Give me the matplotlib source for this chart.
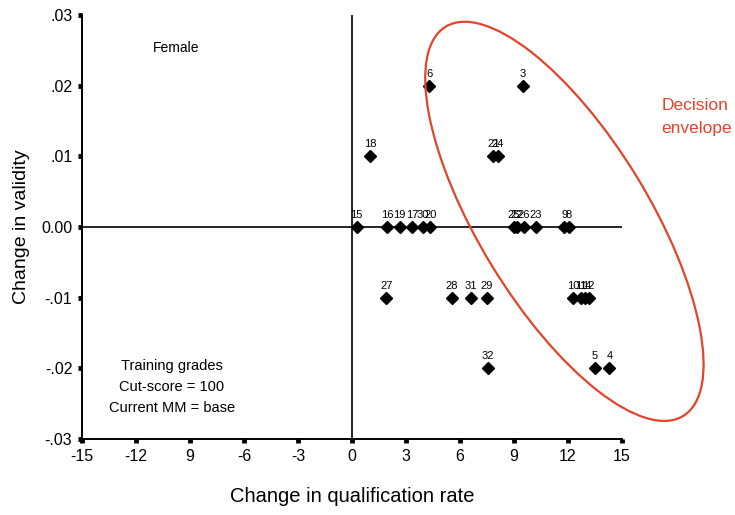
"""Change in validity vs change in qualification rate (Female), with decision envelope."""

import matplotlib
matplotlib.use("Agg")

import matplotlib.pyplot as plt
from matplotlib.patches import Ellipse
from matplotlib.transforms import IdentityTransform

plt.rcParams["font.family"] = ["Liberation Sans", "DejaVu Sans"]

# ---------------------------------------------------------------------------
# Data
# ---------------------------------------------------------------------------
labels = ["6", "3", "18", "21", "24",
          "15", "16", "19", "17", "30", "20",
          "25", "22", "26", "23", "9", "8",
          "27", "28", "31", "29", "10", "11", "14", "12",
          "32", "5", "4"]
qual_change = [4.3, 9.5, 1.0, 7.85, 8.1,
               0.25, 1.95, 2.65, 3.35, 3.95, 4.35,
               9.0, 9.15, 9.55, 10.2, 11.8, 12.05,
               1.9, 5.55, 6.6, 7.5, 12.3, 12.7, 12.95, 13.15,
               7.55, 13.5, 14.3]
valid_change = [0.02, 0.02, 0.01, 0.01, 0.01,
                0.0, 0.0, 0.0, 0.0, 0.0, 0.0,
                0.0, 0.0, 0.0, 0.0, 0.0, 0.0,
                -0.01, -0.01, -0.01, -0.01, -0.01, -0.01, -0.01, -0.01,
                -0.02, -0.02, -0.02]

x_ticks = [-15, -12, -9, -6, -3, 0, 3, 6, 9, 12, 15]
x_tick_labels = ["-15", "-12", "9", "-6", "-3", "0", "3", "6", "9", "12", "15"]
y_ticks = [-0.03, -0.02, -0.01, 0.0, 0.01, 0.02, 0.03]
y_tick_labels = ["-.03", "-.02", "-.01", "0.00", ".01", ".02", ".03"]

# envelope centre in data units, size/angle in pixels
ENV_CENTER = (11.8, 0.0008)
ENV_W, ENV_H, ENV_ANGLE = 456, 170, -58.6
RED = "#e2442c"

# ---------------------------------------------------------------------------
# Figure
# ---------------------------------------------------------------------------
W, H = 735, 515
fig = plt.figure(figsize=(W / 100, H / 100), dpi=100)
ax = fig.add_axes([82 / W, (H - 439) / H, (622 - 82) / W, (439 - 15) / H])

ax.set_xlim(-15, 15)
ax.set_ylim(-0.03, 0.03)

ax.axhline(0, color="black", lw=1.2, zorder=1)
ax.axvline(0, color="black", lw=1.2, zorder=1)

ax.plot(qual_change, valid_change, "D", color="black", ms=6.5, zorder=3)
for lab, x, y in zip(labels, qual_change, valid_change):
    ax.annotate(lab, (x, y), xytext=(0, 5), textcoords="offset points",
                ha="center", va="bottom", fontsize=8, zorder=4)

for side in ("top", "right"):
    ax.spines[side].set_visible(False)
for side in ("left", "bottom"):
    ax.spines[side].set_linewidth(1.4)

ax.set_xticks(x_ticks)
ax.set_xticklabels(x_tick_labels)
ax.set_yticks(y_ticks)
ax.set_yticklabels(y_tick_labels)
ax.tick_params(direction="out", length=3, width=3.5, labelsize=11.5, pad=4)

ax.set_xlabel("Change in qualification rate", fontsize=14.5, labelpad=17)
ax.set_ylabel("Change in validity", fontsize=14, labelpad=8)

fig.text(176 / W, 1 - 48 / H, "Female", fontsize=10, ha="center", va="center")
for txt, ypx in (("Training grades", 366), ("Cut-score = 100", 387),
                 ("Current MM = base", 408)):
    fig.text(172 / W, 1 - ypx / H, txt, fontsize=10.5, ha="center", va="center")

fig.text(695 / W, 1 - 106 / H, "Decision", color=RED, fontsize=12.5,
         ha="center", va="center")
fig.text(697 / W, 1 - 129 / H, "envelope", color=RED, fontsize=12.5,
         ha="center", va="center")

# decision envelope drawn in pixel space so it stays a true rotated ellipse
fig.canvas.draw()
cx, cy = ax.transData.transform(ENV_CENTER)
fig.add_artist(Ellipse((cx, cy), ENV_W, ENV_H, angle=ENV_ANGLE,
                       transform=IdentityTransform(), fill=False,
                       edgecolor=RED, lw=1.6))

fig.savefig("out.png", dpi=100)
